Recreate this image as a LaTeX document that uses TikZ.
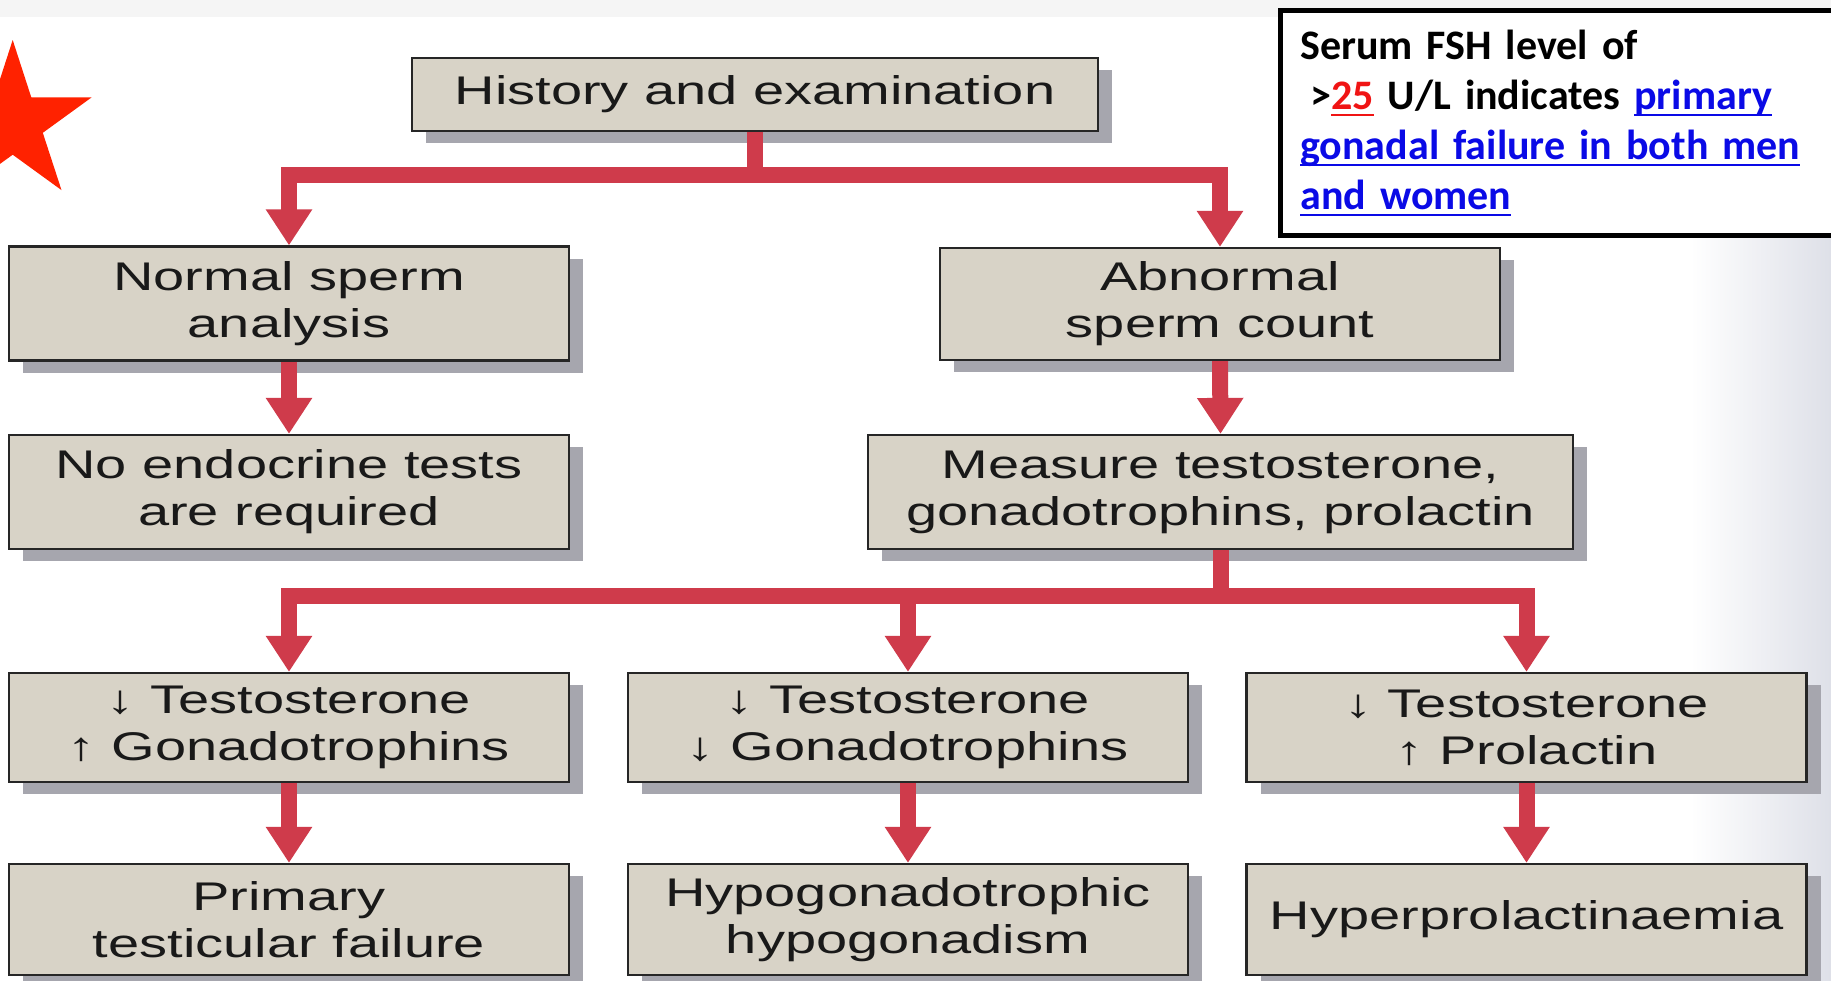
\documentclass[tikz,border=0pt]{standalone}
\usepackage{fontspec}
\setmainfont{Liberation Sans}[FakeStretch=1.4]
\newfontfamily\fshfont{Carlito}
\usetikzlibrary{arrows.meta,shadows}
\definecolor{boxfill}{HTML}{D8D3C7}
\definecolor{shadowc}{HTML}{A6A6AE}
\definecolor{arrowc}{HTML}{CF3B4B}
\definecolor{starc}{HTML}{FF2200}
\definecolor{linkblue}{HTML}{0A0AE6}
\definecolor{numred}{HTML}{F01414}
\newcommand{\myul}[1]{\setbox0=\hbox{#1}\rlap{\rule[-3.5pt]{\wd0}{1.2pt}}\box0}
\begin{document}
\begin{tikzpicture}[x=0.5pt,y=-0.5pt,
  fbox/.style={rectangle, draw=black!85, line width=1.1pt, fill=boxfill, inner sep=0pt,
    align=center, font=\fontsize{20}{23.5}\selectfont, text=black!90,
    drop shadow={shadow xshift=7pt, shadow yshift=-6pt, fill=shadowc, opacity=1}},
  wide/.style={minimum width=280pt},
  bar/.style={draw=arrowc, line width=8pt, line cap=rect},
  stem/.style={draw=arrowc, line width=8pt},
  arr/.style={draw=arrowc, line width=8pt, -{Triangle[width=22pt,length=18pt]}},
]
\useasboundingbox (0,0) rectangle (1831,980);
\clip (0,0) rectangle (1831,980);
\fill[white] (0,0) rectangle (1831,980);
\fill[black!4] (0,0) rectangle (1831,17);
\shade[left color=white, right color={rgb,255:red,222;green,224;blue,232}] (1690,17) rectangle (1831,980);

% star
\fill[starc] (12.7,40) -- (31.3,97.4) -- (91.6,97.4) -- (42.8,132.8) -- (61.5,190.1)
  -- (12.7,154.7) -- (-36.1,190.1) -- (-17.4,132.8) -- (-66.2,97.4) -- (-5.9,97.4) -- cycle;

% boxes
\node[fbox, minimum width=343pt, minimum height=36.5pt] (hist) at (755,94.5) {History and examination};
\node[fbox, wide, minimum height=57pt] (normal) at (289,303.5) {Normal sperm\\analysis};
\node[fbox, wide, minimum height=56pt] (abn) at (1220,304) {Abnormal\\sperm count};
\node[fbox, wide, minimum height=57pt] (noendo) at (289,492) {No endocrine tests\\are required};
\node[fbox, minimum width=352.5pt, minimum height=57pt] (meas) at (1220.5,492) {Measure testosterone,\\gonadotrophins, prolactin};
\node[fbox, wide, minimum height=54.5pt] (ra) at (289,727.5) {↓ Testosterone\\↑ Gonadotrophins};
\node[fbox, wide, minimum height=54.5pt] (rb) at (908,727.5) {↓ Testosterone\\↓ Gonadotrophins};
\node[fbox, wide, minimum height=54.5pt] (rc) at (1526.5,727.5) {↓ Testosterone\\↑ Prolactin};
\node[fbox, wide, minimum height=55.5pt] (sa) at (289,919.5) {Primary\\testicular failure};
\node[fbox, wide, minimum height=55.5pt] (sb) at (908,919.5) {Hypogonadotrophic\\hypogonadism};
\node[fbox, wide, minimum height=55.5pt] (sc) at (1526.5,919.5) {Hyperprolactinaemia};

% connectors
\coordinate (b1) at (0,174.5);
\coordinate (b2) at (0,596);
\draw[stem] (hist.south) -- (hist.south |- b1);
\draw[bar] (normal.north |- b1) -- (abn.north |- b1);
\draw[arr] (normal.north |- b1) -- (normal.north);
\draw[arr] (abn.north |- b1) -- (abn.north);
\draw[arr] (normal.south) -- (noendo.north);
\draw[arr] (abn.south) -- (meas.north);
\draw[stem] (meas.south) -- (meas.south |- b2);
\draw[bar] (ra.north |- b2) -- (rc.north |- b2);
\draw[arr] (ra.north |- b2) -- (ra.north);
\draw[arr] (rb.north |- b2) -- (rb.north);
\draw[arr] (rc.north |- b2) -- (rc.north);
\draw[arr] (ra.south) -- (sa.north);
\draw[arr] (rb.south) -- (sb.north);
\draw[arr] (rc.south) -- (sc.north);

% FSH note
\node[rectangle, draw=black, line width=2.3pt, fill=white, anchor=north west,
  inner xsep=10pt, inner ysep=0pt, text width=266pt, minimum height=112.5pt, align=left,
  font=\fshfont\bfseries\fontsize{21}{25}\selectfont] (fsh) at (1278,8)
  {Serum FSH level of\\
   \hspace*{5pt}>\textcolor{numred}{\myul{25}} U/L indicates \textcolor{linkblue}{\myul{primary}}\\
   \textcolor{linkblue}{\myul{gonadal failure in both men}}\\
   \textcolor{linkblue}{\myul{and women}}};
\end{tikzpicture}
\end{document}
